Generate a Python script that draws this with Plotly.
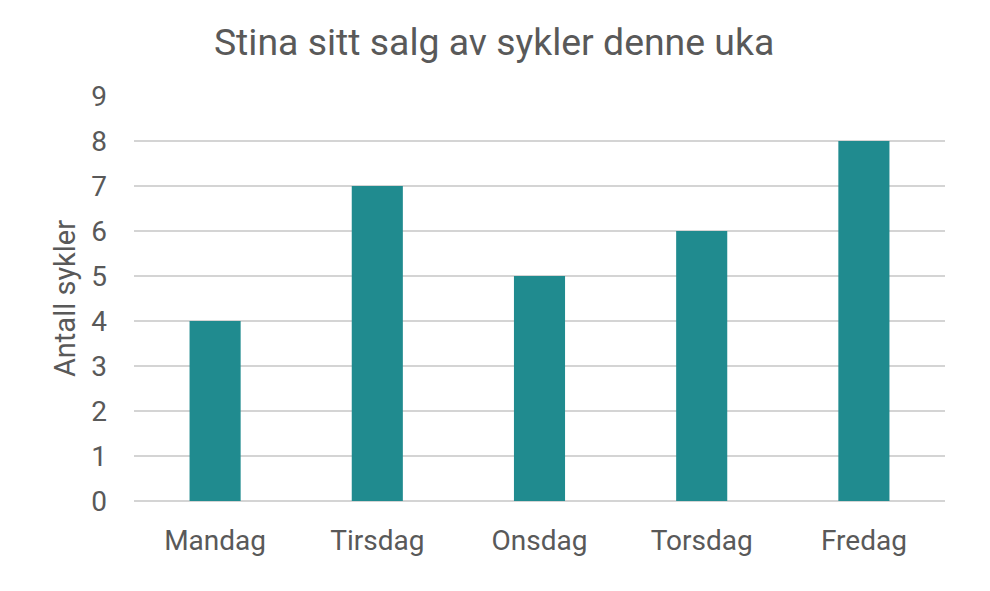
import plotly.graph_objects as go

days = ["Mandag", "Tirsdag", "Onsdag", "Torsdag", "Fredag"]
sales = [4, 7, 5, 6, 8]
y_ticks = [0, 1, 2, 3, 4, 5, 6, 7, 8, 9]

fig = go.Figure(go.Bar(x=days, y=sales, marker_color="#208b8f", width=0.315,
                       marker_line_width=0))

fig.update_layout(
    width=990, height=591,
    paper_bgcolor="white", plot_bgcolor="white",
    margin=dict(l=126, r=53, t=88, b=98),
    font=dict(family="Roboto", color="#595959", size=28),
    title=dict(text="Stina sitt salg av sykler denne uka", x=0.491, xanchor="center",
               y=0.943, yref="container", yanchor="middle",
               font=dict(size=37.4, color="#595959")),
    showlegend=False,
)
fig.update_xaxes(showline=False, showgrid=False, ticks="", tickfont=dict(size=28),
                 ticklabelstandoff=20)
fig.update_yaxes(range=[0, 9], tickvals=y_ticks, showgrid=True, gridcolor="#d4d4d4",
                 gridwidth=1.5, zeroline=True, zerolinecolor="#d4d4d4", zerolinewidth=1.5,
                 showline=False, ticks="", tickfont=dict(size=28), ticklabelstandoff=26,
                 title=dict(text="Antall sykler", font=dict(size=29), standoff=7))

fig.write_html("out.html")
